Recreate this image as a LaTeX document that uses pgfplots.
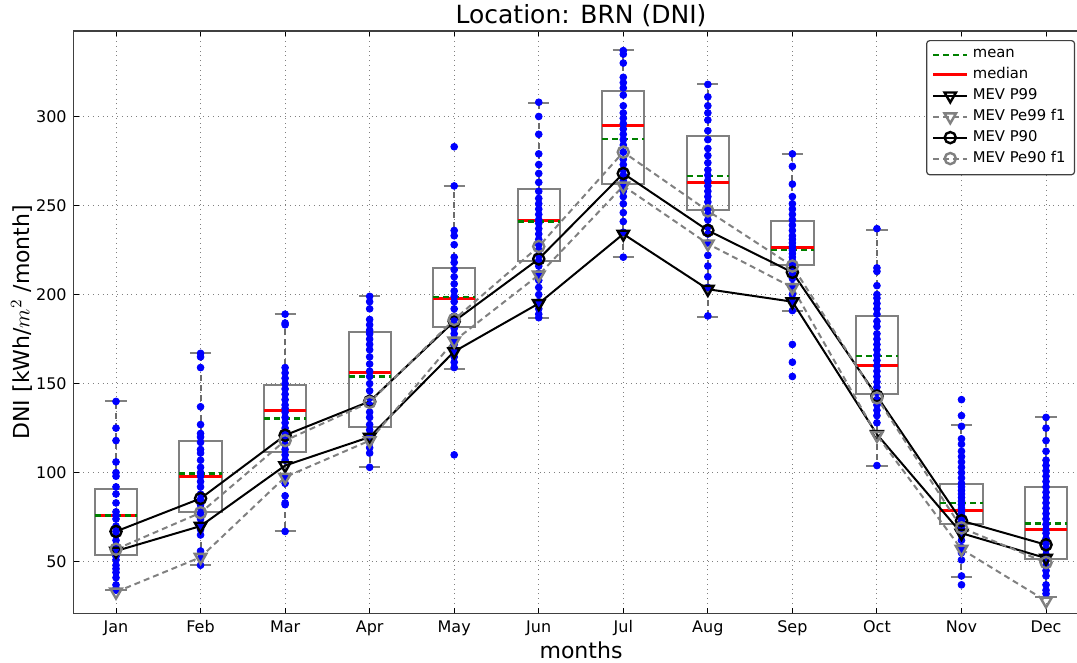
\documentclass[border=0pt]{standalone}
\usepackage{fontspec}
\setmainfont{DejaVu Sans}
\usepackage{pgfplots}
\pgfplotsset{compat=1.18}
\usetikzlibrary{calc}

\definecolor{mplgreen}{rgb}{0,0.5,0}
\definecolor{mplgray}{rgb}{0.5,0.5,0.5}

\pgfplotsset{
  pts/.style={only marks, mark=*, mark size=1.7pt, blue, mark options={fill=blue, draw=blue}, forget plot},
  seg/.style={forget plot, unbounded coords=jump, line width=1pt},
}

\begin{document}
\begin{tikzpicture}
\begin{axis}[
  name=ax,
  scale only axis,
  width=507pt, height=291pt,
  xmin=0.5, xmax=12.5, ymin=21, ymax=348,
  xtick={1,...,12},
  xticklabels={Jan,Feb,Mar,Apr,May,Jun,Jul,Aug,Sep,Oct,Nov,Dec},
  ytick={50,100,...,300},
  tick label style={font=\fontsize{8}{9.6}\selectfont},
  /pgf/number format/assume math mode=true,
  major tick length=2.5pt,
  tick style={black, line width=0.5pt},
  axis line style={black!75, line width=0.7pt},
  grid=major,
  grid style={dotted, black!50, line width=0.5pt},
  title={Location: BRN (DNI)},
  title style={at={(axis description cs:0.5,1.006)}, anchor=center, yshift=0pt, font=\fontsize{12.5}{15}\selectfont},
  xlabel={months},
  xlabel style={at={(axis description cs:0.5,-0.064)}, anchor=center, font=\fontsize{11}{13}\selectfont},
  ylabel={DNI [kWh/$m^2$ /month]},
  ylabel style={at={(axis description cs:-0.0513,0.5)}, anchor=center, font=\fontsize{11}{13}\selectfont},
  legend style={at={(axis description cs:0.987,0.9845)}, anchor=north east,
    font=\fontsize{7.4}{8.5}\selectfont, draw=black!75, line width=0.6pt,
    rounded corners=1.5pt, row sep=-0.6pt, inner sep=2.5pt, cells={anchor=west}},
  legend cell align=left,
]
% whiskers (quartile to whisker end)
\addplot[seg, mplgray!85!black, dash pattern=on 3pt off 2pt] coordinates {
  (1,91) (1,140) (nan,nan) (1,54) (1,34) (nan,nan)
  (2,118) (2,167) (nan,nan) (2,78) (2,48) (nan,nan)
  (3,149) (3,189) (nan,nan) (3,111.5) (3,67) (nan,nan)
  (4,179) (4,199) (nan,nan) (4,125.5) (4,103) (nan,nan)
  (5,215) (5,261) (nan,nan) (5,182) (5,158) (nan,nan)
  (6,259.5) (6,307.5) (nan,nan) (6,219) (6,187) (nan,nan)
  (7,314.5) (7,337.5) (nan,nan) (7,262) (7,221) (nan,nan)
  (8,289) (8,318) (nan,nan) (8,247.5) (8,187.5) (nan,nan)
  (9,241.5) (9,279) (nan,nan) (9,216.5) (9,191) (nan,nan)
  (10,188) (10,236.5) (nan,nan) (10,144) (10,103.5) (nan,nan)
  (11,93.5) (11,126.5) (nan,nan) (11,71) (11,41.5) (nan,nan)
  (12,92) (12,131) (nan,nan) (12,51.5) (12,30)};
% whisker caps
\addplot[seg, mplgray] coordinates {
  (0.875,140) (1.125,140) (nan,nan) (0.875,34) (1.125,34) (nan,nan)
  (1.875,167) (2.125,167) (nan,nan) (1.875,48) (2.125,48) (nan,nan)
  (2.875,189) (3.125,189) (nan,nan) (2.875,67) (3.125,67) (nan,nan)
  (3.875,199) (4.125,199) (nan,nan) (3.875,103) (4.125,103) (nan,nan)
  (4.875,261) (5.125,261) (nan,nan) (4.875,158) (5.125,158) (nan,nan)
  (5.875,307.5) (6.125,307.5) (nan,nan) (5.875,187) (6.125,187) (nan,nan)
  (6.875,337.5) (7.125,337.5) (nan,nan) (6.875,221) (7.125,221) (nan,nan)
  (7.875,318) (8.125,318) (nan,nan) (7.875,187.5) (8.125,187.5) (nan,nan)
  (8.875,279) (9.125,279) (nan,nan) (8.875,191) (9.125,191) (nan,nan)
  (9.875,236.5) (10.125,236.5) (nan,nan) (9.875,103.5) (10.125,103.5) (nan,nan)
  (10.875,126.5) (11.125,126.5) (nan,nan) (10.875,41.5) (11.125,41.5) (nan,nan)
  (11.875,131) (12.125,131) (nan,nan) (11.875,30) (12.125,30)};
% boxes (lower to upper quartile)
\addplot[seg, mplgray, line cap=rect] coordinates {
  (0.75,54) (1.25,54) (1.25,91) (0.75,91) (0.75,54) (nan,nan)
  (1.75,78) (2.25,78) (2.25,118) (1.75,118) (1.75,78) (nan,nan)
  (2.75,111.5) (3.25,111.5) (3.25,149) (2.75,149) (2.75,111.5) (nan,nan)
  (3.75,125.5) (4.25,125.5) (4.25,179) (3.75,179) (3.75,125.5) (nan,nan)
  (4.75,182) (5.25,182) (5.25,215) (4.75,215) (4.75,182) (nan,nan)
  (5.75,219) (6.25,219) (6.25,259.5) (5.75,259.5) (5.75,219) (nan,nan)
  (6.75,262) (7.25,262) (7.25,314.5) (6.75,314.5) (6.75,262) (nan,nan)
  (7.75,247.5) (8.25,247.5) (8.25,289) (7.75,289) (7.75,247.5) (nan,nan)
  (8.75,216.5) (9.25,216.5) (9.25,241.5) (8.75,241.5) (8.75,216.5) (nan,nan)
  (9.75,144) (10.25,144) (10.25,188) (9.75,188) (9.75,144) (nan,nan)
  (10.75,71) (11.25,71) (11.25,93.5) (10.75,93.5) (10.75,71) (nan,nan)
  (11.75,51.5) (12.25,51.5) (12.25,92) (11.75,92) (11.75,51.5)};
% medians
\addplot[seg, red, line width=1.5pt] coordinates {
  (0.75,76) (1.25,76) (nan,nan) (1.75,98) (2.25,98) (nan,nan)
  (2.75,135) (3.25,135) (nan,nan) (3.75,156) (4.25,156) (nan,nan)
  (4.75,198) (5.25,198) (nan,nan) (5.75,241.5) (6.25,241.5) (nan,nan)
  (6.75,295) (7.25,295) (nan,nan) (7.75,263) (8.25,263) (nan,nan)
  (8.75,226.5) (9.25,226.5) (nan,nan) (9.75,160) (10.25,160) (nan,nan)
  (10.75,78.5) (11.25,78.5) (nan,nan) (11.75,68) (12.25,68)};
% means
\addplot[seg, mplgreen, line width=1.2pt, dash pattern=on 3pt off 2pt] coordinates {
  (0.75,76) (1.25,76) (nan,nan) (1.75,99.5) (2.25,99.5) (nan,nan)
  (2.75,130.5) (3.25,130.5) (nan,nan) (3.75,154) (4.25,154) (nan,nan)
  (4.75,198.5) (5.25,198.5) (nan,nan) (5.75,241) (6.25,241) (nan,nan)
  (6.75,287.5) (7.25,287.5) (nan,nan) (7.75,266.5) (8.25,266.5) (nan,nan)
  (8.75,225) (9.25,225) (nan,nan) (9.75,165.5) (10.25,165.5) (nan,nan)
  (10.75,83) (11.25,83) (nan,nan) (11.75,71.5) (12.25,71.5)};

% monthly values
\addplot[pts] coordinates {(1,140) (1,125) (1,118) (1,106) (1,100) (1,98) (1,92) (1,88) (1,83) (1,78) (1,76) (1,74) (1,70) (1,67) (1,65) (1,62) (1,59) (1,56) (1,53) (1,51) (1,48) (1,46) (1,44) (1,41) (1,37) (1,35) (1,34)};
\addplot[pts] coordinates {(2,167) (2,165) (2,159) (2,137) (2,127) (2,122) (2,120) (2,117) (2,113) (2,111) (2,107) (2,103) (2,100) (2,98) (2,95) (2,92) (2,88) (2,85) (2,82) (2,80) (2,77) (2,74) (2,71) (2,68) (2,65) (2,56) (2,52) (2,48)};
\addplot[pts] coordinates {(3,189) (3,184) (3,183) (3,159) (3,156) (3,153) (3,150) (3,147) (3,144) (3,141) (3,138) (3,136) (3,134) (3,131) (3,128) (3,125) (3,122) (3,119) (3,116) (3,113) (3,110) (3,107) (3,98) (3,94) (3,87) (3,83) (3,82) (3,67)};
\addplot[pts] coordinates {(4,199) (4,196) (4,192) (4,186) (4,183) (4,180) (4,178) (4,175) (4,172) (4,169) (4,165) (4,161) (4,157) (4,154) (4,150) (4,146) (4,142) (4,138) (4,134) (4,131) (4,127) (4,124) (4,121) (4,119) (4,117) (4,114) (4,111) (4,103)};
\addplot[pts] coordinates {(5,283) (5,261) (5,236) (5,233) (5,228) (5,221) (5,218) (5,214) (5,210) (5,206) (5,202) (5,199) (5,196) (5,192) (5,188) (5,186) (5,183) (5,181) (5,178) (5,175) (5,172) (5,168) (5,165) (5,162) (5,159) (5,110)};
\addplot[pts] coordinates {(6,308) (6,300) (6,290) (6,279) (6,273) (6,268) (6,263) (6,258) (6,254) (6,251) (6,248) (6,245) (6,242) (6,240) (6,237) (6,234) (6,231) (6,228) (6,225) (6,222) (6,219) (6,216) (6,212) (6,208) (6,204) (6,200) (6,196) (6,192) (6,189) (6,187)};
\addplot[pts] coordinates {(7,337) (7,335) (7,330) (7,322) (7,319) (7,316) (7,312) (7,306) (7,302) (7,299) (7,296) (7,293) (7,290) (7,287) (7,284) (7,280) (7,276) (7,273) (7,270) (7,267) (7,264) (7,261) (7,258) (7,255) (7,251) (7,246) (7,241) (7,235) (7,221)};
\addplot[pts] coordinates {(8,318) (8,311) (8,306) (8,302) (8,298) (8,292) (8,287) (8,282) (8,278) (8,274) (8,270) (8,267) (8,264) (8,261) (8,258) (8,255) (8,252) (8,248) (8,245) (8,242) (8,238) (8,234) (8,229) (8,222) (8,216) (8,210) (8,204) (8,188)};
\addplot[pts] coordinates {(9,279) (9,272) (9,262) (9,255) (9,251) (9,248) (9,245) (9,242) (9,239) (9,236) (9,233) (9,231) (9,229) (9,227) (9,225) (9,223) (9,221) (9,219) (9,217) (9,215) (9,212) (9,209) (9,205) (9,200) (9,196) (9,191) (9,172) (9,162) (9,154)};
\addplot[pts] coordinates {(10,237) (10,215) (10,213) (10,205) (10,200) (10,198) (10,195) (10,192) (10,189) (10,185) (10,182) (10,178) (10,175) (10,172) (10,169) (10,166) (10,163) (10,160) (10,157) (10,154) (10,151) (10,148) (10,145) (10,141) (10,138) (10,135) (10,132) (10,128) (10,104)};
\addplot[pts] coordinates {(11,141) (11,132) (11,126) (11,119) (11,116) (11,112) (11,109) (11,106) (11,103) (11,100) (11,97) (11,94) (11,92) (11,90) (11,88) (11,86) (11,84) (11,82) (11,80) (11,78) (11,76) (11,74) (11,72) (11,70) (11,68) (11,65) (11,62) (11,58) (11,55) (11,51) (11,42) (11,37)};
\addplot[pts] coordinates {(12,131) (12,125) (12,118) (12,112) (12,107) (12,104) (12,101) (12,98) (12,95) (12,92) (12,89) (12,86) (12,83) (12,80) (12,77) (12,74) (12,71) (12,68) (12,66) (12,63) (12,60) (12,57) (12,54) (12,51) (12,48) (12,45) (12,42) (12,37) (12,34) (12,32)};

% legend entries for box statistics
\addlegendimage{mplgreen, line width=1.2pt, dash pattern=on 3pt off 2pt}
\addlegendentry{mean}
\addlegendimage{red, line width=1.5pt}
\addlegendentry{median}

% MEV curves
\addplot[black, line width=1pt, mark=triangle, mark size=3.3pt, mark options={rotate=180, solid, line width=1.2pt}]
  coordinates {(1,56) (2,70) (3,104) (4,120) (5,168) (6,195) (7,234) (8,203) (9,196) (10,121.5) (11,66) (12,52)};
\addlegendentry{MEV P99}
\addplot[mplgray, line width=1pt, dash pattern=on 3pt off 2pt, mark=triangle, mark size=3.3pt, mark options={rotate=180, solid, line width=1.2pt}]
  coordinates {(1,33) (2,52.5) (3,97.5) (4,118) (5,174) (6,211) (7,261) (8,228.5) (9,204) (10,121) (11,57) (12,28)};
\addlegendentry{MEV Pe99 f1}
\addplot[black, line width=1pt, mark=o, mark size=2.8pt, mark options={solid, line width=1.2pt}]
  coordinates {(1,67) (2,85.5) (3,121) (4,140) (5,185) (6,220) (7,268) (8,236) (9,212.5) (10,143) (11,73) (12,59.5)};
\addlegendentry{MEV P90}
\addplot[mplgray, line width=1pt, dash pattern=on 3pt off 2pt, mark=o, mark size=2.8pt, mark options={solid, line width=1.2pt}]
  coordinates {(1,57) (2,77.5) (3,118) (4,139.5) (5,186) (6,227) (7,280) (8,247) (9,216) (10,142) (11,69) (12,49.5)};
\addlegendentry{MEV Pe90 f1}
\end{axis}
\pgfresetboundingbox
\useasboundingbox ($(ax.south west)+(-36.85pt,-24.5pt)$) rectangle ($(ax.north east)+(-5.65pt,15.5pt)$);
\end{tikzpicture}
\end{document}
